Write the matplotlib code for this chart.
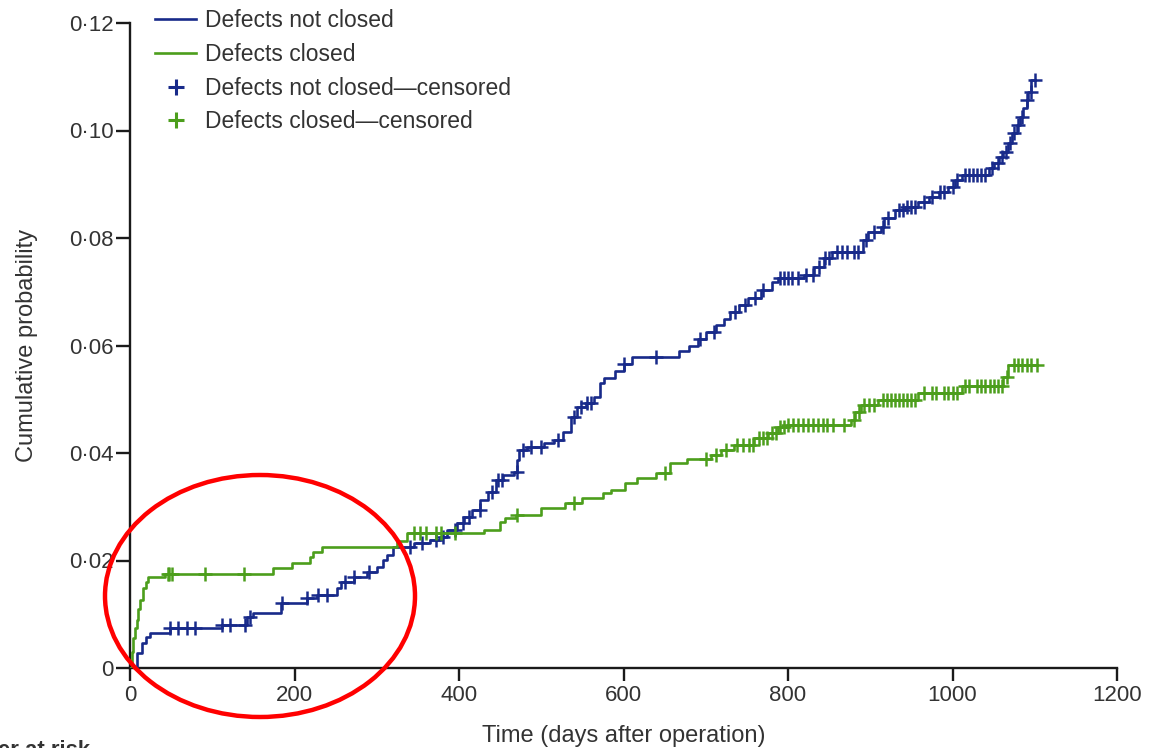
import numpy as np
import matplotlib
matplotlib.use("Agg")
import matplotlib.pyplot as plt
from matplotlib.lines import Line2D
from matplotlib.patches import Ellipse
from matplotlib.ticker import FuncFormatter

plt.rcParams['font.family'] = ['Liberation Sans', 'DejaVu Sans']

# ---- data ----
blue_t = [0, 8, 14, 20, 24, 49, 112, 142, 150, 183, 215, 227, 252, 256, 272, 288, 300, 308, 313, 320,
          345, 365, 377, 386, 398, 406, 416, 426, 435, 445, 454, 467, 471, 473, 483, 503, 515, 526, 536,
          544, 554, 564, 572, 576, 590, 600, 610, 668, 680, 690, 700, 712, 722, 730, 740, 751, 767, 780,
          788, 820, 832, 844, 853, 891, 897, 913, 917, 930, 942, 958, 971, 983, 995, 1003, 1011, 1044,
          1050, 1056, 1062, 1068, 1072, 1078, 1082, 1086, 1090, 1092, 1096]
blue_v = [0, 0.0028, 0.0046, 0.0058, 0.0065, 0.0074, 0.0080, 0.0095, 0.0102, 0.0121, 0.0130, 0.0136,
          0.0149, 0.0160, 0.0170, 0.0179, 0.0188, 0.0201, 0.0210, 0.0225, 0.0233, 0.0238, 0.0244, 0.0257,
          0.0270, 0.0281, 0.0294, 0.0313, 0.0327, 0.0350, 0.0359, 0.0365, 0.0387, 0.0406, 0.0412, 0.0418,
          0.0424, 0.0439, 0.0467, 0.0486, 0.0493, 0.0504, 0.0530, 0.0540, 0.0553, 0.0565, 0.0578, 0.0590,
          0.0600, 0.0612, 0.0625, 0.0638, 0.0650, 0.0662, 0.0675, 0.0688, 0.0703, 0.0718, 0.0726, 0.0731,
          0.0746, 0.0763, 0.0774, 0.0796, 0.0811, 0.0820, 0.0837, 0.0852, 0.0858, 0.0867, 0.0876, 0.0886,
          0.0895, 0.0908, 0.0917, 0.0930, 0.0940, 0.0951, 0.0960, 0.0977, 0.0995, 0.1010, 0.1025, 0.1042,
          0.1057, 0.1072, 0.1094]
blue_end = 1100
blue_cens = [49, 58, 69, 79, 112, 122, 140, 146, 185, 215, 228, 240, 262, 272, 290, 340, 355, 372, 380,
             395, 405, 412, 425, 440, 447, 452, 470, 478, 488, 500, 520, 540, 548, 556, 560, 600, 640, 693,
             710, 735, 748, 760, 770, 790, 795, 800, 805, 812, 822, 830, 838, 845, 850, 860, 866, 872, 880,
             885, 895, 905, 915, 922, 935, 940, 945, 950, 955, 965, 975, 985, 990, 1000, 1005, 1015, 1020,
             1025, 1030, 1035, 1040, 1048, 1055, 1060, 1065, 1070, 1075, 1080, 1085, 1090, 1095, 1100]

green_t = [0, 2, 4, 6, 8, 10, 12, 16, 19, 22, 43, 174, 197, 219, 223, 233, 325, 337, 430, 450, 456, 469,
           500, 529, 550, 575, 585, 602, 616, 640, 657, 677, 706, 719, 734, 759, 776, 788, 800, 877, 881,
           889, 910, 958, 1011, 1062, 1068]
green_v = [0, 0.0030, 0.0055, 0.0075, 0.0090, 0.0110, 0.0127, 0.0149, 0.0160, 0.0169, 0.0175, 0.0186,
           0.0195, 0.0207, 0.0216, 0.0225, 0.0237, 0.0251, 0.0257, 0.0272, 0.0279, 0.0285, 0.0298, 0.0307,
           0.0316, 0.0326, 0.0331, 0.0344, 0.0353, 0.0363, 0.0381, 0.0389, 0.0396, 0.0406, 0.0415, 0.0428,
           0.0437, 0.0448, 0.0452, 0.0461, 0.0477, 0.0489, 0.0499, 0.0511, 0.0525, 0.0542, 0.0564]
green_end = 1103
green_cens = [46, 48, 51, 91, 138, 345, 352, 360, 372, 378, 395, 470, 540, 650, 700, 712, 725, 738, 745,
              752, 758, 765, 770, 775, 780, 785, 790, 795, 800, 806, 812, 818, 824, 830, 836, 842, 848, 855,
              868, 880, 886, 892, 898, 904, 915, 920, 925, 930, 935, 940, 945, 950, 955, 965, 975, 980, 990,
              995, 1000, 1005, 1015, 1020, 1030, 1035, 1040, 1045, 1050, 1055, 1060, 1066, 1075, 1080, 1085,
              1090, 1095, 1103]

labels = ["Defects not closed", "Defects closed",
          "Defects not closed\u2014censored", "Defects closed\u2014censored"]
x_ticks = [0, 200, 400, 600, 800, 1000, 1200]
y_ticks = [0, 0.02, 0.04, 0.06, 0.08, 0.10, 0.12]

BLUE = "#182a8a"
GREEN = "#4c9e1c"

fig = plt.figure(figsize=(11.49, 7.48), dpi=100)
ax = fig.add_axes([130/1149, 1-668/748, (1117-130)/1149, (668-23)/748])


def step_at(ts, vs, q):
    idx = np.searchsorted(np.asarray(ts), np.asarray(q), side='right') - 1
    return np.asarray(vs)[idx]


for ts, vs, end, cens, col in [(blue_t, blue_v, blue_end, blue_cens, BLUE),
                               (green_t, green_v, green_end, green_cens, GREEN)]:
    ax.step(list(ts) + [end], list(vs) + [vs[-1]], where='post', color=col, lw=1.9, zorder=3)
    ax.plot(cens, step_at(ts, vs, cens), linestyle='none', marker='+', color=col,
            markersize=9.5, markeredgewidth=1.8, zorder=4)

ax.set_xlim(0, 1200)
ax.set_ylim(0, 0.12)
ax.set_xticks(x_ticks)
ax.set_yticks(y_ticks)
ax.yaxis.set_major_formatter(FuncFormatter(
    lambda v, p: "0" if abs(v) < 1e-12 else f"{v:.2f}".replace(".", "\u00b7")))
for s in ['top', 'right']:
    ax.spines[s].set_visible(False)
for s in ['left', 'bottom']:
    ax.spines[s].set_linewidth(1.7)
    ax.spines[s].set_color('#1a1a1a')
ax.tick_params(axis='y', direction='out', length=10, width=1.7, pad=2,
               labelsize=16, labelcolor='#333333', color='#1a1a1a')
ax.tick_params(axis='x', direction='out', length=9, width=1.7, pad=3,
               labelsize=16, labelcolor='#333333', color='#1a1a1a')

ax.set_xlabel("Time (days after operation)", fontsize=17, color='#333333', labelpad=14)
ax.set_ylabel("Cumulative probability", fontsize=17, color='#333333', labelpad=22)

handles = [Line2D([], [], color=BLUE, lw=1.9),
           Line2D([], [], color=GREEN, lw=1.9),
           Line2D([], [], color=BLUE, linestyle='none', marker='+', markersize=11, markeredgewidth=2.2),
           Line2D([], [], color=GREEN, linestyle='none', marker='+', markersize=11, markeredgewidth=2.2)]
leg = fig.legend(handles, labels, loc='upper left', bbox_to_anchor=(155/1149, 1-9/748),
                 frameon=False, fontsize=16.5, handlelength=1.8, handletextpad=0.4,
                 labelspacing=0.47, borderaxespad=0, borderpad=0)
for t in leg.get_texts():
    t.set_color('#333333')

fig.text(90/1149, 1-740/748, "Number at risk", ha='right', va='top', fontsize=16,
         fontweight='bold', color='#333333')

ell = Ellipse((260/1149, 1-596/748), 310/1149, 242/748, transform=fig.transFigure,
              fill=False, edgecolor='#ff0000', lw=3.2, zorder=10, clip_on=False)
fig.add_artist(ell)

fig.savefig("out.png", dpi=100)
